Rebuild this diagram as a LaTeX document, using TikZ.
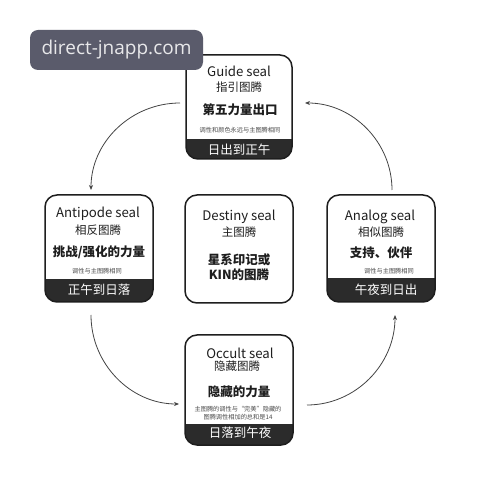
\documentclass[tikz,border=0pt]{standalone}
\usepackage{fontspec}
\setmainfont{Noto Sans CJK SC}
\newfontfamily\wmfont{Open Sans}
\usetikzlibrary{arrows.meta,calc}
\definecolor{ink}{HTML}{1E1E1E}
\definecolor{bandc}{HTML}{2B2B2B}
\definecolor{wm}{HTML}{5A5B6B}
\definecolor{wmtext}{HTML}{E8E8EA}
\definecolor{arrowc}{HTML}{444444}
\tikzset{
  box/.style={inner sep=0pt, outer sep=0pt},
  frame/.style={draw=ink, line width=1.5pt, rounded corners=12pt},
  ttl/.style={text=ink, font=\fontsize{13.2}{14}\selectfont, inner sep=0pt},
  sub/.style={text=ink, font=\fontsize{11.5}{12}\selectfont, inner sep=0pt},
  key/.style={text=ink, font=\bfseries\fontsize{12.5}{13}\selectfont, inner sep=0pt},
  tiny/.style={text=ink!80, font=\fontsize{6.2}{7.5}\selectfont, inner sep=0pt, align=center},
  bandtxt/.style={text=white, font=\fontsize{12.5}{13}\selectfont, inner sep=0pt},
  flow/.style={draw=arrowc, line width=0.8pt, -{Stealth[length=5pt,width=4pt]}},
}
\newcommand{\sealbox}[5]{\node[box, minimum width=#4pt, minimum height=#5pt] (#1) at (#2,#3) {};}
\newcommand{\sealband}[2]{%
  \begin{scope}
    \clip[rounded corners=12pt] (#1.south west) rectangle (#1.north east);
    \fill[bandc] (#1.south west) rectangle ([yshift=#2]#1.south east);
  \end{scope}}
\newcommand{\sealframe}[1]{\draw[frame] (#1.south west) rectangle (#1.north east);}
\begin{document}
\begin{tikzpicture}[x=1pt,y=-1pt]
\fill[white] (0,0) rectangle (498,486);
\useasboundingbox (0,0) rectangle (498,486);

% boxes
\sealbox{guide}{239}{107}{106}{104}
\sealbox{anti}{99}{248.5}{108}{107}
\sealbox{dest}{239}{249}{108}{108}
\sealbox{analog}{381}{248.5}{108}{107}
\sealbox{occult}{239}{390}{108}{110}

\sealband{guide}{20pt}
\sealband{anti}{23pt}
\sealband{analog}{24pt}
\sealband{occult}{21pt}
\sealframe{guide}
\sealframe{anti}
\sealframe{dest}
\sealframe{analog}
\sealframe{occult}

% guide
\node[ttl] (guideT) at (239,71) {Guide seal};
\node[sub] (guideS) at (239,87) {指引图腾};
\node[key] (guideK) at (240,110) {第五力量出口};
\node[tiny] (guideN) at (240,130) {调性和颜色永远与主图腾相同};
\node[bandtxt] (guideB) at (239,149.5) {日出到正午};

% antipode
\node[ttl] (antiT) at (98,214) {Antipode seal};
\node[sub] (antiS) at (98,230) {相反图腾};
\node[key] (antiK) at (99,252) {挑战/强化的力量};
\node[tiny] (antiN) at (97,271) {调性与主图腾相同};
\node[bandtxt] (antiB) at (99,290) {正午到日落};

% destiny
\node[ttl] (destT) at (239,217) {Destiny seal};
\node[sub] (destS) at (239,232) {主图腾};
\node[key] (destK1) at (239,260) {星系印记或};
\node[key] (destK2) at (239,275) {KIN的图腾};

% analog
\node[ttl] (analogT) at (380,217) {Analog seal};
\node[sub] (analogS) at (381,232) {相似图腾};
\node[key] (analogK) at (381,253) {支持、伙伴};
\node[tiny] (analogN) at (389,271) {调性与主图腾相同};
\node[bandtxt] (analogB) at (386,290) {午夜到日出};

% occult
\node[ttl] (occultT) at (240,353) {Occult seal};
\node[sub] (occultS) at (237,366) {隐藏图腾};
\node[key] (occultK) at (239,392) {隐藏的力量};
\node[tiny] (occultN) at (238,413) {主图腾的调性与“完美”隐藏的\\图腾调性相加的总和是14};
\node[bandtxt] (occultB) at (240,433) {日落到午夜};

% connectors
\coordinate (g1) at ([xshift=-6pt,yshift=4pt]guide.west);
\coordinate (a1) at ([xshift=-8pt,yshift=5pt]anti.north);
\draw[flow] (g1) .. controls ($(g1)!0.55!(g1 -| a1)$) and ($(a1)!0.55!(g1 -| a1)$) .. (a1);

\coordinate (n1) at ([xshift=11pt,yshift=5pt]analog.north);
\coordinate (g2) at ([xshift=13pt,yshift=4pt]guide.east);
\draw[flow] (n1) .. controls ($(n1)!0.55!(n1 |- g2)$) and ($(g2)!0.55!(n1 |- g2)$) .. (g2);

\coordinate (a2) at ([xshift=-8pt,yshift=-13pt]anti.south);
\coordinate (o1) at ([xshift=-6pt,yshift=-14pt]occult.west);
\draw[flow] (a2) .. controls ($(a2)!0.55!(a2 |- o1)$) and ($(o1)!0.55!(a2 |- o1)$) .. (o1);

\coordinate (o2) at ([xshift=14pt,yshift=-15pt]occult.east);
\coordinate (n2) at ([xshift=14pt,yshift=-13pt]analog.south);
\draw[flow] (o2) .. controls ($(o2)!0.55!(n2 |- o2)$) and ($(n2)!0.55!(n2 |- o2)$) .. (n2);

% watermark
\node[fill=wm, rounded corners=8pt, minimum width=173pt, minimum height=40pt, inner sep=0pt,
  text=wmtext, font=\wmfont\fontsize{19}{21}\selectfont] (wmark) at (116.5,50) {direct-jnapp.com};
\end{tikzpicture}
\end{document}
